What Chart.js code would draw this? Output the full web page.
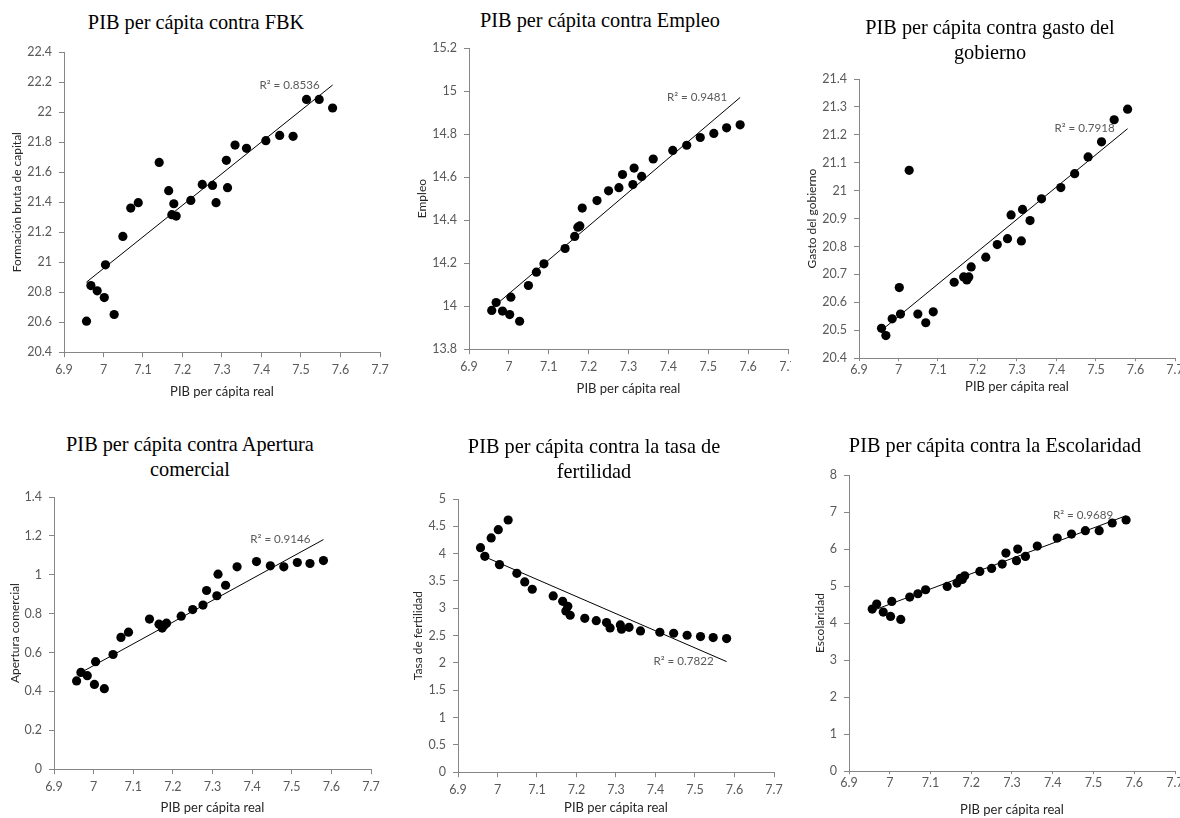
<!DOCTYPE html>
<html>
<head>
<meta charset="utf-8">
<script src="https://cdn.jsdelivr.net/npm/chart.js@4.4.0/dist/chart.umd.min.js"></script>
<style>
html,body{margin:0;padding:0;background:#fff;overflow:hidden;width:1180px;height:818px;}
.title{position:absolute;width:440px;text-align:center;font-family:"Liberation Serif","Times New Roman",serif;font-size:20.3px;line-height:25px;color:#000;white-space:nowrap;}
.wrap{position:absolute;overflow:hidden;}
canvas{position:absolute;left:0;top:0;}
</style>
</head>
<body>
<script>
// ---- DATA ----
const pibReal = [6.957, 6.968, 6.984, 7.002, 7.005, 7.027, 7.049, 7.069, 7.088, 7.141,
                 7.165, 7.173, 7.178, 7.184, 7.221, 7.250, 7.276, 7.285, 7.311, 7.314,
                 7.333, 7.362, 7.411, 7.446, 7.480, 7.514, 7.546, 7.580];
const fbk = [20.607, 20.844, 20.809, 20.764, 20.982, 20.651, 21.171, 21.360, 21.396, 21.664,
             21.476, 21.316, 21.389, 21.307, 21.411, 21.518, 21.511, 21.396, 21.678, 21.496,
             21.780, 21.758, 21.809, 21.844, 21.838, 22.084, 22.084, 22.027];
const empleo = [13.980, 14.017, 13.977, 13.961, 14.042, 13.930, 14.096, 14.158, 14.197, 14.268,
                14.324, 14.367, 14.373, 14.456, 14.491, 14.536, 14.551, 14.612, 14.565, 14.642,
                14.603, 14.684, 14.724, 14.748, 14.784, 14.803, 14.829, 14.843];
const gasto = [20.507, 20.481, 20.541, 20.653, 20.558, 21.073, 20.558, 20.527, 20.566, 20.672,
               20.691, 20.680, 20.691, 20.727, 20.762, 20.807, 20.828, 20.913, 20.820, 20.933,
               20.893, 20.971, 21.011, 21.061, 21.121, 21.175, 21.254, 21.292];
const apertura = [0.454, 0.498, 0.481, 0.436, 0.553, 0.414, 0.590, 0.678, 0.705, 0.772,
                  0.746, 0.726, 0.741, 0.751, 0.787, 0.821, 0.844, 0.919, 0.892, 1.003,
                  0.946, 1.041, 1.068, 1.046, 1.041, 1.063, 1.058, 1.073];
const fertilidad = [4.110, 3.951, 4.287, 4.439, 3.799, 4.616, 3.640, 3.482, 3.348, 3.226,
                    3.128, 2.951, 3.037, 2.872, 2.817, 2.774, 2.738, 2.640, 2.695, 2.616,
                    2.652, 2.585, 2.561, 2.543, 2.506, 2.482, 2.463, 2.445];
const escolaridad = [4.378, 4.514, 4.297, 4.180, 4.586, 4.099, 4.703, 4.793, 4.901, 4.991,
                     5.081, 5.207, 5.180, 5.279, 5.396, 5.477, 5.595, 5.892, 5.685, 6.000,
                     5.802, 6.081, 6.297, 6.405, 6.495, 6.495, 6.703, 6.784];

// trend lines: x ends and y ends
const trendX = [6.957, 7.580];
const fbkTrend = [20.867, 22.180];
const empleoTrend = [13.990, 14.970];
const gastoTrend = [20.500, 21.222];
const aperturaTrend = [0.485, 1.181];
const fertilidadTrend = [3.976, 2.024];
const escolaridadTrend = [4.333, 6.900];

const r2Labels = ["R² = 0.8536", "R² = 0.9481", "R² = 0.7918", "R² = 0.9146", "R² = 0.7822", "R² = 0.9689"];

// tick labels
const xTicks = [6.9, 7, 7.1, 7.2, 7.3, 7.4, 7.5, 7.6, 7.7];
const fbkTicks = [20.4, 20.6, 20.8, 21, 21.2, 21.4, 21.6, 21.8, 22, 22.2, 22.4];
const empleoTicks = [13.8, 14, 14.2, 14.4, 14.6, 14.8, 15, 15.2];
const gastoTicks = [20.4, 20.5, 20.6, 20.7, 20.8, 20.9, 21, 21.1, 21.2, 21.3, 21.4];
const aperturaTicks = [0, 0.2, 0.4, 0.6, 0.8, 1, 1.2, 1.4];
const fertilidadTicks = [0, 0.5, 1, 1.5, 2, 2.5, 3, 3.5, 4, 4.5, 5];
const escolaridadTicks = [0, 1, 2, 3, 4, 5, 6, 7, 8];

const titles = [
  ["PIB per cápita contra FBK"],
  ["PIB per cápita contra Empleo"],
  ["PIB per cápita contra gasto del", "gobierno"],
  ["PIB per cápita contra Apertura", "comercial"],
  ["PIB per cápita contra la tasa de", "fertilidad"],
  ["PIB per cápita contra la Escolaridad"]
];
const yTitles = ["Formación bruta de capital", "Empleo", "Gasto del gobierno", "Apertura comercial", "Tasa de fertilidad", "Escolaridad"];
const xTitle = "PIB per cápita real";

// ---- LAYOUT (pixel boxes) ----
const series = [fbk, empleo, gasto, apertura, fertilidad, escolaridad];
const trends = [fbkTrend, empleoTrend, gastoTrend, aperturaTrend, fertilidadTrend, escolaridadTrend];
const yTickSets = [fbkTicks, empleoTicks, gastoTicks, aperturaTicks, fertilidadTicks, escolaridadTicks];
const boxes = [
  {L:64,  R:380,  T:52,  B:352, ytx:17,  xty:392, tcx:196, tcy:22,  clip:null, xpad:5, xtl:5},
  {L:469, R:788,  T:48,  B:349, ytx:422, xty:389, tcx:600, tcy:20,  clip:791,  xpad:5, xtl:5},
  {L:859, R:1175, T:79,  B:358, ytx:812, xty:387, tcx:990, tcy:40,  clip:null, xpad:1, xtl:3},
  {L:54,  R:371,  T:497, B:769, ytx:15,  xty:808, tcx:190, tcy:457, clip:null, xpad:5, xtl:5},
  {L:458, R:774,  T:499, B:772, ytx:418, xty:808, tcx:594, tcy:459, clip:null, xpad:5, xtl:5},
  {L:849, R:1175, T:475, B:771, ytx:820, xty:810, tcx:995, tcy:445, clip:null, xpad:1, xtl:3}
];

Chart.defaults.font.family = "Lato, 'Open Sans', sans-serif";
Chart.defaults.devicePixelRatio = 1;

const r2Plugin = {
  id: 'r2',
  afterDatasetsDraw(chart, args, opts) {
    const meta = chart.getDatasetMeta(1);
    const last = meta.data[meta.data.length - 1];
    const ctx = chart.ctx;
    ctx.save();
    ctx.font = "11.6px Lato, 'Open Sans', sans-serif";
    ctx.fillStyle = '#595959';
    ctx.textAlign = 'right';
    ctx.textBaseline = 'middle';
    ctx.fillText(opts.text, last.x - 13, last.y);
    ctx.restore();
  }
};

const fmt = v => String(Math.round(v * 100) / 100);
const axisColor = '#868686';
const offY = 7.2;  // half of y-title line height (12px * 1.2 / 2)
const offX = 7.8;  // half of x-title line height (13px * 1.2 / 2)

boxes.forEach((b, i) => {
  // title
  const t = document.createElement('div');
  t.className = 'title';
  t.style.left = (b.tcx - 220) + 'px';
  t.style.top = (b.tcy - titles[i].length * 12.5) + 'px';
  t.innerHTML = titles[i].join('<br>');
  document.body.appendChild(t);

  const left = Math.round(b.ytx - offY);
  const yw = b.L - left;
  const pt = 15;
  const top = b.T - pt;
  const xh = b.xty + offX - b.B;
  const w = Math.ceil(yw + (b.R - b.L) + 16);
  const pr = w - yw - (b.R - b.L);
  const h = Math.round(pt + (b.B - b.T) + xh);

  const wrap = document.createElement('div');
  wrap.className = 'wrap';
  wrap.style.left = left + 'px';
  wrap.style.top = top + 'px';
  wrap.style.width = (b.clip ? (b.clip - left) : w) + 'px';
  wrap.style.height = h + 'px';
  const cv = document.createElement('canvas');
  cv.width = w; cv.height = h;
  cv.style.width = w + 'px'; cv.style.height = h + 'px';
  wrap.appendChild(cv);
  document.body.appendChild(wrap);

  const yt = yTickSets[i];
  const pts = pibReal.map((x, k) => ({x: x, y: series[i][k]}));
  const tl = trendX.map((x, k) => ({x: x, y: trends[i][k]}));

  new Chart(cv, {
    type: 'scatter',
    data: {
      datasets: [
        {data: pts, backgroundColor: '#000', borderColor: '#000', pointRadius: 4.6, pointBorderWidth: 0, pointHoverRadius: 4.6},
        {type: 'line', data: tl, borderColor: '#000', borderWidth: 1, pointRadius: 0, fill: false, showLine: true}
      ]
    },
    options: {
      responsive: false,
      animation: false,
      devicePixelRatio: 1,
      layout: {padding: {left: 0, top: pt, right: pr, bottom: 0}},
      plugins: {legend: {display: false}, tooltip: {enabled: false}, r2: {text: r2Labels[i]}},
      scales: {
        x: {
          type: 'linear', position: 'bottom',
          min: xTicks[0], max: xTicks[xTicks.length - 1],
          afterBuildTicks: s => { s.ticks = xTicks.map(v => ({value: v})); },
          afterFit: s => { s.height = xh; },
          grid: {drawOnChartArea: false, drawTicks: true, tickLength: b.xtl, color: axisColor, tickColor: axisColor},
          border: {display: true, color: axisColor, width: 1},
          ticks: {callback: v => fmt(v), color: '#595959', font: {size: 12.5}, padding: b.xpad, maxRotation: 0, autoSkip: false},
          title: {display: true, text: xTitle, color: '#262626', font: {size: 13}, padding: 0}
        },
        y: {
          type: 'linear', position: 'left',
          min: yt[0], max: yt[yt.length - 1],
          afterBuildTicks: s => { s.ticks = yt.map(v => ({value: v})); },
          afterFit: s => { s.width = yw; },
          grid: {drawOnChartArea: false, drawTicks: true, tickLength: 5, color: axisColor, tickColor: axisColor},
          border: {display: true, color: axisColor, width: 1},
          ticks: {callback: v => fmt(v), color: '#595959', font: {size: 12.5}, padding: 7, autoSkip: false},
          title: {display: true, text: yTitles[i], color: '#262626', font: {size: 12}, padding: 0}
        }
      }
    },
    plugins: [r2Plugin]
  });
});
</script>
</body>
</html>
